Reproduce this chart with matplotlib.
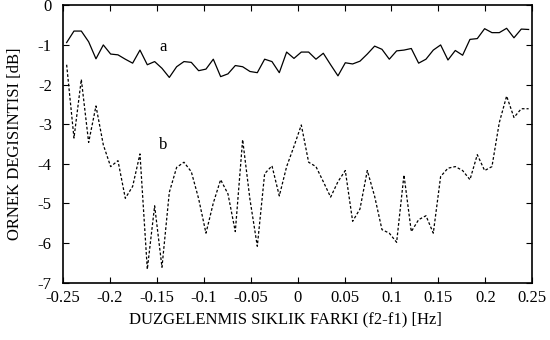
import numpy as np
import matplotlib
matplotlib.use("Agg")
import matplotlib.pyplot as plt

plt.rcParams["font.family"] = ["Liberation Serif", "DejaVu Serif"]
plt.rcParams["axes.unicode_minus"] = False

# frekans ekseni: 64 nokta, adim 1/128
freq = -0.25 + (np.arange(64) + 0.5) / 128

# egri a (duz cizgi)
curve_a = [
    -0.94, -0.65, -0.65, -0.92, -1.35, -1.00, -1.23, -1.25, -1.36, -1.46,
    -1.13, -1.50, -1.42, -1.59, -1.82, -1.55, -1.42, -1.44, -1.65, -1.61,
    -1.36, -1.80, -1.73, -1.52, -1.55, -1.67, -1.70, -1.36, -1.42, -1.70,
    -1.18, -1.34, -1.18, -1.18, -1.36, -1.21, -1.50, -1.78, -1.45, -1.48,
    -1.41, -1.23, -1.03, -1.11, -1.36, -1.15, -1.13, -1.09, -1.46, -1.36,
    -1.13, -1.00, -1.38, -1.14, -1.26, -0.86, -0.84, -0.59, -0.69, -0.69,
    -0.58, -0.82, -0.60, -0.61,
]

# egri b (kesikli cizgi)
curve_b = [
    -1.50, -3.35, -1.87, -3.46, -2.54, -3.52, -4.07, -3.92, -4.87, -4.57,
    -3.75, -6.66, -5.06, -6.61, -4.72, -4.09, -3.96, -4.20, -4.88, -5.75,
    -4.99, -4.40, -4.76, -5.71, -3.39, -4.90, -6.08, -4.25, -4.05, -4.81,
    -4.07, -3.56, -3.02, -3.96, -4.07, -4.45, -4.84, -4.45, -4.17, -5.45,
    -5.14, -4.17, -4.82, -5.66, -5.75, -5.98, -4.28, -5.71, -5.41, -5.31,
    -5.75, -4.32, -4.11, -4.07, -4.17, -4.40, -3.77, -4.17, -4.07, -2.96,
    -2.29, -2.83, -2.61, -2.61,
]

xticks = [-0.25, -0.2, -0.15, -0.1, -0.05, 0, 0.05, 0.1, 0.15, 0.2, 0.25]
xtick_labels = ["-0.25", "-0.2", "-0.15", "-0.1", "-0.05", "0",
                "0.05", "0.1", "0.15", "0.2", "0.25"]
yticks = [-7, -6, -5, -4, -3, -2, -1, 0]

fig = plt.figure(figsize=(5.5, 3.4), dpi=100)
ax = fig.add_axes([0.1145, 0.1685, 0.8533, 0.8159])

ax.plot(freq, curve_a, color="black", lw=0.9)
ax.plot(freq, curve_b, color="black", lw=0.9, linestyle=(0, (2.2, 1.6)))

ax.text(-0.143, -1.05, "a", fontsize=12, ha="center", va="center")
ax.text(-0.143, -3.52, "b", fontsize=12, ha="center", va="center")

ax.set_xlim(-0.25, 0.25)
ax.set_ylim(-7, 0)
ax.set_xticks(xticks)
ax.set_xticklabels(xtick_labels)
ax.set_yticks(yticks)
ax.tick_params(direction="in", length=4, width=0.8, top=True, right=True,
               labelsize=12, pad=5)
ax.tick_params(axis="y", pad=8)
for sp in ax.spines.values():
    sp.set_linewidth(1.2)

ax.set_xlabel("DUZGELENMIS SIKLIK FARKI (f2-f1) [Hz]", fontsize=12)
ax.xaxis.set_label_coords(0.475, -0.105)
ax.set_ylabel("ORNEK DEGISINTISI [dB]", fontsize=12, labelpad=11)

fig.savefig("out.png", dpi=100)
